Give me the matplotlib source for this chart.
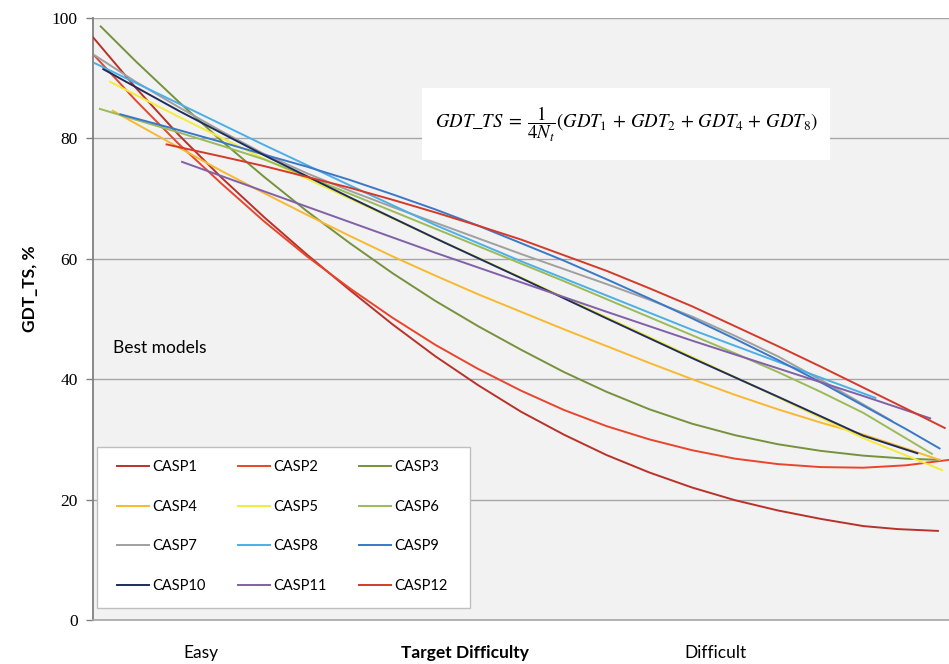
import numpy as np
import matplotlib.pyplot as plt
from matplotlib.patches import Rectangle

# difficulty axis runs 0 (easy) .. 100 (difficult); values are GDT_TS, %
casp1_x = [0, 5, 10, 15, 20, 25, 30, 35, 40, 45, 50, 55, 60, 65, 70, 75, 80, 85, 90, 94, 98.7]
casp1_y = [96.8, 88.4, 80.6, 73.5, 66.9, 60.7, 54.8, 49.1, 43.8, 39.0, 34.6, 30.8, 27.4,
           24.5, 22.0, 19.9, 18.2, 16.8, 15.6, 15.1, 14.8]

casp2_x = [0.2, 5, 10, 15, 20, 25, 30, 35, 40, 45, 50, 55, 60, 65, 70, 75, 80, 85, 90, 95, 100]
casp2_y = [93.7, 86.3, 79.1, 72.5, 66.2, 60.4, 55.1, 50.2, 45.7, 41.7, 38.1, 34.9, 32.2,
           30.0, 28.2, 26.8, 25.9, 25.4, 25.3, 25.7, 26.6]

casp3_x = [0.9, 5, 10, 15, 20, 25, 30, 35, 40, 45, 50, 55, 60, 65, 70, 75, 80, 85, 90, 95, 98.9]
casp3_y = [98.6, 92.8, 86.1, 79.6, 73.6, 67.9, 62.6, 57.6, 53.0, 48.8, 44.9, 41.2, 37.9,
           35.0, 32.6, 30.7, 29.2, 28.1, 27.3, 26.8, 26.6]

casp4_x = [2.3, 10, 15, 20, 25, 30, 35, 40, 45, 50, 55, 60, 65, 70, 75, 80, 85, 90, 94.5, 98.9]
casp4_y = [84.6, 78.5, 74.6, 70.9, 67.3, 63.8, 60.4, 57.2, 54.1, 51.2, 48.3, 45.5, 42.7,
           40.0, 37.4, 35.0, 32.8, 30.8, 28.7, 26.6]

casp5_x = [2.0, 10, 20, 30, 40, 50, 60, 70, 80, 90, 99.2]
casp5_y = [89.4, 83.6, 76.6, 70.0, 63.4, 56.9, 50.3, 43.7, 37.0, 30.2, 24.9]

casp6_x = [0.8, 5, 10, 15, 20, 25, 30, 35, 40, 45, 50, 55, 60, 65, 70, 75, 80, 85, 90, 94, 98.0]
casp6_y = [84.9, 83.1, 81.0, 78.8, 76.5, 73.7, 70.8, 67.9, 65.0, 62.1, 59.2, 56.3, 53.3,
           50.3, 47.3, 44.3, 41.2, 37.9, 34.4, 31.0, 27.6]

casp7_x = [0.2, 5, 10, 15, 20, 25, 30, 35, 40, 45, 50, 55, 60, 65, 70, 75, 80, 85, 90, 93.3]
casp7_y = [93.8, 89.4, 85.2, 81.2, 77.4, 74.2, 71.3, 68.6, 66.0, 63.4, 60.8, 58.3, 55.8,
           53.2, 50.4, 47.2, 43.8, 39.9, 35.8, 33.1]

casp8_x = [0.2, 10, 20, 30, 40, 50, 60, 70, 80, 91.4]
casp8_y = [92.5, 85.8, 78.9, 72.2, 65.6, 59.6, 53.9, 48.2, 42.9, 36.9]

casp9_x = [3.2, 10, 15, 20, 25, 30, 35, 40, 45, 50, 55, 60, 65, 70, 75, 80, 85, 90, 95, 98.9]
casp9_y = [84.0, 81.4, 79.4, 77.3, 75.3, 73.1, 70.7, 68.2, 65.5, 62.6, 59.7, 56.6, 53.4,
           50.1, 46.7, 43.2, 39.5, 35.6, 31.7, 28.5]

casp10_x = [1.2, 10, 20, 30, 40, 50, 60, 70, 80, 90, 96.3]
casp10_y = [91.5, 84.6, 77.2, 70.2, 63.4, 56.8, 50.1, 43.5, 37.1, 30.6, 27.7]

casp11_x = [10.4, 20, 30, 40, 50, 60, 70, 80, 90, 97.8]
casp11_y = [76.1, 71.2, 66.1, 61.0, 56.1, 51.2, 46.4, 41.8, 37.2, 33.5]

casp12_x = [8.6, 15, 20, 25, 30, 35, 40, 45, 50, 55, 60, 65, 70, 75, 80, 85, 90, 95, 99.5]
casp12_y = [79.0, 77.0, 75.4, 73.6, 71.8, 69.8, 67.7, 65.5, 63.2, 60.6, 58.0, 55.1, 52.1,
            48.8, 45.5, 42.1, 38.6, 35.1, 31.9]

names = ["CASP1", "CASP2", "CASP3", "CASP4", "CASP5", "CASP6",
         "CASP7", "CASP8", "CASP9", "CASP10", "CASP11", "CASP12"]
xs = [casp1_x, casp2_x, casp3_x, casp4_x, casp5_x, casp6_x,
      casp7_x, casp8_x, casp9_x, casp10_x, casp11_x, casp12_x]
ys = [casp1_y, casp2_y, casp3_y, casp4_y, casp5_y, casp6_y,
      casp7_y, casp8_y, casp9_y, casp10_y, casp11_y, casp12_y]
colors = ["#B8322A", "#E8452C", "#76923C", "#F8B92E", "#F3EC3A", "#9BBB59",
          "#A0A0A0", "#4BAFE8", "#3A78C8", "#1F2D5C", "#8060A8", "#D43A2A"]

plt.rcParams['font.family'] = ['Lato', 'DejaVu Sans']
plt.rcParams['mathtext.fontset'] = 'stix'

fig = plt.figure(figsize=(9.49, 6.64), dpi=100)
ax = fig.add_axes([93/949, 44/664, 856/949, 602/664])
ax.set_facecolor("#F2F2F2")

for i in range(12):
    ax.plot(xs[i], ys[i], color=colors[i], lw=1.4, label=names[i], zorder=3,
            solid_joinstyle='round')

ax.set_xlim(0, 100)
ax.set_ylim(0, 100)
ax.set_yticks([0, 20, 40, 60, 80, 100])
ax.yaxis.grid(True, color="#A6A6A6", lw=1.0, zorder=1)
ax.set_axisbelow(True)
ax.tick_params(axis='y', length=5, width=1, color="#808080", pad=6)
for lab in ax.get_yticklabels():
    lab.set_fontfamily('Liberation Serif')
    lab.set_fontsize(12.5)
ax.spines['right'].set_visible(False)
ax.spines['top'].set_visible(False)
ax.spines['left'].set_color("#808080")
ax.spines['left'].set_linewidth(1.3)
ax.spines['bottom'].set_color("#A6A6A6")
ax.spines['bottom'].set_linewidth(1.2)

ax.set_xticks([12.6, 72.7])
ax.set_xticklabels(["Easy", "Difficult"], fontsize=12.5)
ax.tick_params(axis='x', length=0, pad=18)
ax.text(43.5, -0.0415, "Target Difficulty", transform=ax.get_xaxis_transform(),
        ha='center', va='top', fontsize=12.5, fontweight='bold')

ax.set_ylabel("GDT_TS, %", fontsize=12.5, fontweight='bold')
ax.yaxis.set_label_coords(-0.064, 0.55)

ax.text(2.3, 45.2, "Best models", fontsize=12.5, va='center', ha='left')

# formula box
ax.add_patch(Rectangle((38.4, 76.4), 47.7, 12.0, facecolor='white',
                       edgecolor='none', zorder=4))
ax.text(62.3, 82.4,
        r"$GDT\_TS\;=\;\dfrac{1}{4N_t}(GDT_1\,+\,GDT_2\,+\,GDT_4\,+\,GDT_8)$",
        ha='center', va='center', fontsize=13.5, zorder=5)

# legend box drawn by hand, entries filled row by row
ax.add_patch(Rectangle((0.0047, 0.02), 0.4357, 0.267, transform=ax.transAxes,
                       facecolor='white', edgecolor="#BFBFBF", lw=1.0, zorder=5))
h, l = ax.get_legend_handles_labels()
order = [0, 3, 6, 9, 1, 4, 7, 10, 2, 5, 8, 11]
leg = ax.legend([h[k] for k in order], [l[k] for k in order], ncol=3,
                loc='upper left', bbox_to_anchor=(0.028, 0.266),
                fontsize=10.5, frameon=False,
                handlelength=2.2, handletextpad=0.25, columnspacing=2.18,
                labelspacing=1.77, borderpad=0, borderaxespad=0)
leg.set_zorder(6)

fig.savefig("out.png", dpi=100)
